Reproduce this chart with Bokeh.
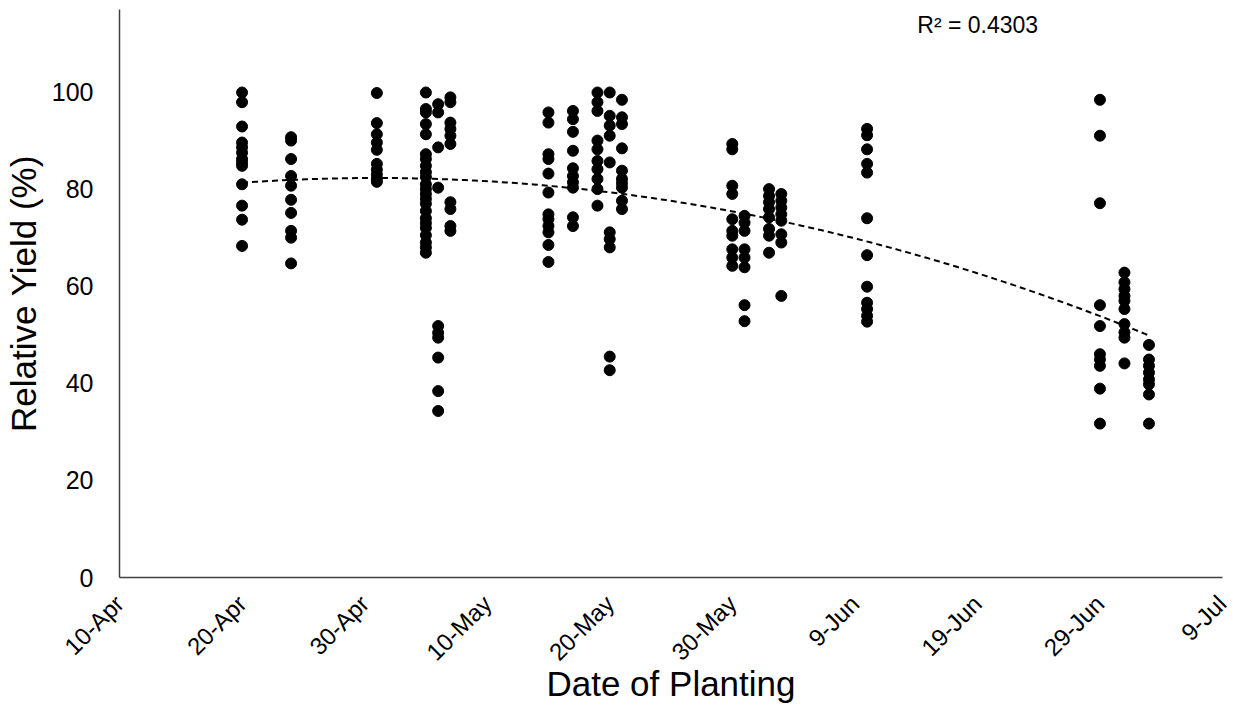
import numpy as np
from datetime import date
from bokeh.plotting import figure
from bokeh.models import FixedTicker, Range1d
from bokeh.core.properties import value
from bokeh.embed import file_html
from bokeh.resources import INLINE

# --- data ---
planting_dates = ["04-20", "04-24", "05-01", "05-05", "05-06", "05-07",
                  "05-15", "05-17", "05-19", "05-20", "05-21",
                  "05-30", "05-31", "06-02", "06-03", "06-10",
                  "06-29", "07-01", "07-03"]

yields = [
    [99.9, 97.9, 92.9, 89.6, 88.6, 87.5, 86.2, 85.5, 84.8, 81.0, 76.6, 73.7, 68.3],
    [90.7, 90.0, 86.2, 82.7, 80.7, 77.8, 75.1, 71.4, 70.0, 64.7],
    [99.8, 93.6, 91.3, 89.6, 88.1, 85.2, 84.0, 83.0, 82.1, 81.5],
    [99.9, 96.5, 95.8, 93.4, 91.3, 87.2, 86.2, 84.8, 83.5, 82.5, 81.0, 80.0, 79.0,
     78.0, 77.0, 75.5, 74.0, 73.0, 72.0, 70.5, 69.0, 68.0, 66.9],
    [97.5, 95.8, 88.6, 80.3, 51.8, 50.4, 49.4, 45.3, 38.4, 34.3],
    [98.9, 97.9, 93.7, 92.4, 91.0, 89.3, 77.3, 75.9, 72.4, 71.4],
    [95.8, 93.7, 87.2, 86.2, 83.2, 79.3, 74.8, 73.8, 72.4, 71.1, 68.5, 65.0],
    [96.1, 94.4, 91.8, 87.9, 84.3, 82.7, 81.4, 80.3, 74.2, 72.4],
    [99.9, 97.9, 96.1, 90.0, 88.2, 85.8, 84.1, 82.1, 80.0, 76.6],
    [99.9, 95.1, 93.1, 91.0, 85.5, 71.1, 69.7, 68.0, 45.5, 42.7],
    [98.4, 94.8, 93.4, 88.4, 83.8, 82.1, 81.2, 80.3, 77.6, 75.9],
    [89.3, 88.2, 80.7, 79.0, 73.8, 71.4, 70.4, 67.6, 65.9, 64.2],
    [74.5, 73.1, 71.4, 67.6, 65.9, 63.9, 56.1, 52.8],
    [80.0, 78.6, 77.3, 75.9, 74.2, 71.8, 70.4, 66.9],
    [79.0, 77.6, 76.2, 74.8, 73.5, 70.7, 69.0, 58.0],
    [92.4, 91.1, 88.2, 85.2, 83.4, 74.0, 66.4, 59.9, 56.6, 55.3, 53.9, 52.7],
    [98.4, 91.0, 77.1, 56.1, 51.8, 46.0, 44.9, 43.6, 38.9, 31.7],
    [62.8, 60.8, 59.4, 58.0, 57.0, 55.3, 52.2, 50.5, 49.4, 44.1],
    [47.9, 44.9, 43.6, 42.2, 40.8, 39.8, 37.7, 31.7],
]

tick_labels = ["10-Apr", "20-Apr", "30-Apr", "10-May", "20-May", "30-May",
               "9-Jun", "19-Jun", "29-Jun", "9-Jul"]
y_ticks = [0, 20, 40, 60, 80, 100]
r2_text = "R² = 0.4303"

# --- build ---
origin = date(2020, 4, 10)
def day_of(s):
    m, d = s.split("-")
    return (date(2020, int(m), int(d)) - origin).days

xs, ys = [], []
for ds, yl in zip(planting_dates, yields):
    for yv in yl:
        xs.append(day_of(ds))
        ys.append(yv)
xs = np.array(xs, dtype=float)
ys = np.array(ys, dtype=float)

coef = np.polyfit(xs, ys, 2)
tx = np.linspace(xs.min(), xs.max(), 200)
ty = np.polyval(coef, tx)

FONT = "Liberation Sans"
p = figure(width=1231, height=706, output_backend="svg", toolbar_location=None,
           x_range=Range1d(0, 90), y_range=Range1d(0, 117),
           min_border_left=111, min_border_right=9, min_border_top=9,
           min_border_bottom=120)
p.outline_line_color = None
p.xgrid.visible = False
p.ygrid.visible = False

p.line(tx, ty, line_color="black", line_width=2, line_dash="6 4")
p.scatter(xs, ys, size=11, fill_color="black", line_color="black")

p.text(x=[65.1], y=[113.9], text=[r2_text], text_font=value(FONT),
       text_font_size="23px", text_baseline="middle", text_align="left",
       text_color="#000000")

tick_pos = [i * 10 for i in range(len(tick_labels))]
p.xaxis.ticker = FixedTicker(ticks=tick_pos)
p.xaxis.major_label_overrides = {t: l for t, l in zip(tick_pos, tick_labels)}
p.xaxis.major_label_orientation = np.pi / 4
p.yaxis.ticker = FixedTicker(ticks=y_ticks)

for ax in (p.xaxis, p.yaxis):
    ax.major_tick_line_color = None
    ax.minor_tick_line_color = None
    ax.axis_line_color = "#404040"
    ax.axis_line_width = 1.5
    ax.major_label_text_font = FONT
    ax.major_label_text_color = "#000000"
    ax.axis_label_text_font = FONT
    ax.axis_label_text_font_style = "normal"
    ax.axis_label_text_color = "#000000"
    ax.axis_label_text_font_size = "35px"

p.yaxis.major_label_text_font_size = "25px"
p.xaxis.major_label_text_font_size = "24px"
p.yaxis.major_label_standoff = 20
p.xaxis.major_label_standoff = 16
p.yaxis.axis_label = "Relative Yield (%)"
p.xaxis.axis_label = "Date of Planting"
p.yaxis.axis_label_standoff = 6
p.xaxis.axis_label_standoff = -14

open("out.html", "w").write(file_html(p, INLINE))
